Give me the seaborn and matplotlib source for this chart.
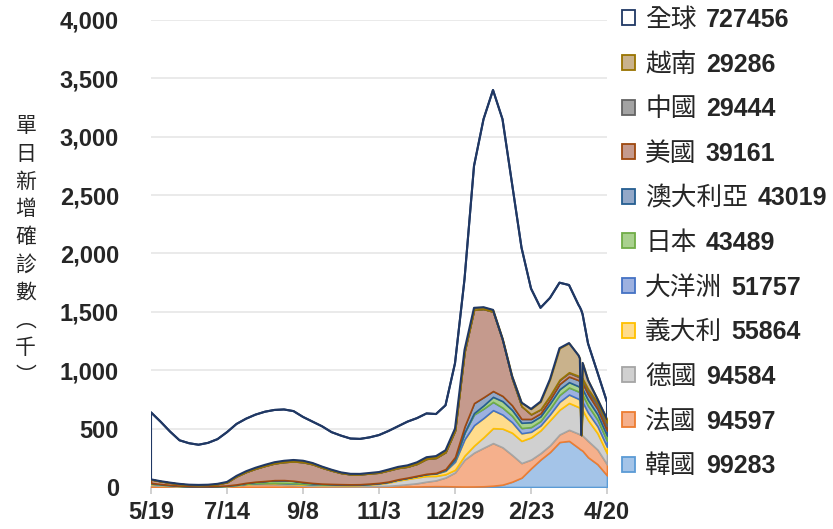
import pandas as pd
import numpy as np
import seaborn as sns
import matplotlib.pyplot as plt
from matplotlib.patches import Patch

# 7-day average daily new cases (thousands)
# weekly from 2021-05-19 to 2022-03-30, then a few single days around 4/1 and the last weeks
dates = list(pd.date_range('2021-05-19', '2022-03-30', freq='7D')) + list(pd.to_datetime(
    ['2022-03-31', '2022-04-01', '2022-04-02', '2022-04-06', '2022-04-13', '2022-04-20']))

korea = [0.6, 0.6, 0.6, 0.5, 0.45, 0.5, 0.7, 1.0, 1.4,
         1.5, 1.5, 1.5, 1.8, 1.9, 1.8, 1.8, 1.9, 1.9, 2.5, 2.4,
         2.2, 1.6, 1.4, 1.6, 2.0, 2.3, 2.9, 3.8, 4.3, 6.0, 7.0, 6.5,
         5.0, 4.0, 4.5, 6.0, 11, 20, 45, 80, 160, 235, 300, 385, 395, 335,
         325, 318, 310, 255, 195, 99.283]
france = [14, 11, 8, 4.5, 3, 2.2, 2.5, 3.5, 6,
          12, 19, 23, 23, 21, 17, 14, 10, 7.5, 6, 5,
          4.5, 4, 4, 4.5, 5.5, 8, 13, 20, 28, 40, 50, 75,
          120, 230, 290, 330, 365, 320, 230, 125, 75, 55, 58, 65, 95, 122,
          125, 128, 130, 140, 125, 94.597]
germany = [10, 6, 4, 2.5, 1.2, 0.8, 0.6, 0.7, 0.9,
           1.5, 2.3, 3, 4, 6, 8, 9, 10, 9, 8, 9,
           9, 9.5, 11, 15, 20, 28, 40, 45, 50, 48, 38, 28,
           22, 35, 60, 90, 128, 160, 190, 190, 190, 195, 215, 212, 230, 228,
           222, 0, 218, 178, 140, 94.584]
italy = [5, 3.5, 2.5, 2, 1.3, 1, 0.9, 1.2, 2,
         3, 4.5, 5.5, 6, 6.5, 6.5, 6, 5, 4.5, 4, 3.5,
         3, 2.8, 2.8, 3.5, 4, 5.5, 7.5, 9, 12, 16, 20, 30,
         70, 140, 175, 165, 154, 120, 90, 65, 48, 42, 50, 68, 72, 70,
         70, 0, 69, 64, 60, 55.864]
oceania = [0.05, 0.05, 0.05, 0.05, 0.03, 0.03, 0.05, 0.07, 0.1,
           0.1, 0.15, 0.2, 0.3, 0.6, 0.9, 1.3, 1.6, 1.8, 1.9, 1.9,
           2, 2.1, 2.1, 2.1, 1.8, 1.4, 1.3, 1.3, 1.3, 1.6, 3, 8,
           22, 57, 92, 80, 71, 60, 55, 45, 40, 38, 48, 58, 60, 63,
           63, 0, 63, 60, 56, 51.757]
japan = [5.5, 4.5, 3, 2, 1.6, 1.5, 1.7, 2, 2.5,
         4, 8, 12, 16, 22, 24, 20, 13, 8, 4.5, 2.5,
         1.5, 0.7, 0.4, 0.3, 0.2, 0.2, 0.15, 0.1, 0.1, 0.1, 0.2, 0.2,
         0.3, 2, 12, 28, 43, 55, 50, 45, 42, 40, 45, 49, 46, 45,
         45, 0, 46, 48, 46, 43.489]
australia = [0.01, 0.01, 0.01, 0.02, 0.02, 0.02, 0.03, 0.06, 0.1,
             0.15, 0.2, 0.25, 0.3, 0.6, 0.85, 1.2, 1.5, 1.7, 1.8, 1.8,
             1.9, 2, 2, 2, 1.6, 1.2, 1.2, 1.2, 1.1, 1.3, 2.5, 6,
             18, 50, 85, 70, 50, 45, 40, 33, 28, 26, 34, 45, 48, 52,
             52, 0, 52, 50, 46, 43.019]
usa = [30, 24, 19, 15, 12, 11.5, 12.5, 17, 28,
       69, 93, 112, 130, 144, 155, 166, 170, 161, 137, 115,
       96, 86, 85, 87, 88, 96, 97, 94, 102, 128, 129, 145,
       227, 640, 800, 756, 680, 476, 230, 110, 40, 35, 33, 34, 32, 29,
       29, 0, 28, 27, 30, 39.161]
china = [0.02, 0.02, 0.02, 0.02, 0.02, 0.02, 0.02, 0.02, 0.02,
         0.05, 0.05, 0.08, 0.1, 0.08, 0.05, 0.05, 0.05, 0.05, 0.05, 0.05,
         0.05, 0.05, 0.05, 0.05, 0.08, 0.08, 0.05, 0.05, 0.05, 0.08, 0.1, 0.12,
         0.15, 0.15, 0.1, 0.08, 0.1, 0.1, 0.1, 0.12, 0.2, 0.4, 1, 3, 5, 8,
         9, 0, 12, 18, 26, 29.444]
vietnam = [0.1, 0.15, 0.2, 0.2, 0.2, 0.3, 0.5, 1.5, 2.5,
           4, 6, 7.5, 8.5, 9.5, 10.5, 12, 12, 10, 9, 7,
           5, 4, 3.5, 4, 5, 7, 9, 11, 13, 14, 15, 16,
           16, 16, 16, 15, 15, 14, 20, 30, 45, 65, 140, 270, 250, 175,
           160, 0, 135, 75, 28, 29.286]
world = [639, 560, 475, 400, 375, 362, 378, 410, 470,
         540, 585, 620, 645, 660, 664, 650, 600, 560, 520, 470,
         440, 415, 412, 425, 445, 480, 520, 560, 590, 630, 625, 700,
         1060, 1780, 2750, 3150, 3400, 3150, 2600, 2050, 1700, 1535, 1620, 1750, 1730, 1560,
         1540, 1515, 1480, 1230, 980, 727.456]

# stacking order, bottom to top
layers = [
    ('韓國', korea, '#A4C4E8', '#5B9BD5'),
    ('法國', france, '#F5B08C', '#ED7D31'),
    ('德國', germany, '#D0D0D0', '#A5A5A5'),
    ('義大利', italy, '#FFDC8C', '#FFC000'),
    ('大洋洲', oceania, '#9DB1E0', '#4472C4'),
    ('日本', japan, '#A9D18E', '#70AD47'),
    ('澳大利亞', australia, '#93A8C8', '#255E91'),
    ('美國', usa, '#C59A8D', '#9E480E'),
    ('中國', china, '#A3A3A3', '#636363'),
    ('越南', vietnam, '#C9B28C', '#997300'),
]
NAVY = '#203864'

sns.set_theme(style='white')
plt.rcParams['font.family'] = ['Liberation Sans', 'Noto Sans CJK TC', 'DejaVu Sans']

fig = plt.figure(figsize=(8.33, 5.29), dpi=100)
ax = fig.add_axes([0.1813, 0.0794, 0.5474, 0.8828])

df = pd.DataFrame({'date': dates})
lower = np.zeros(len(dates))
for i, (name, vals, face, edge) in enumerate(layers):
    upper = lower + np.array(vals, dtype=float)
    ax.fill_between(df['date'], lower, upper, facecolor=face, edgecolor=edge,
                    linewidth=1.2, zorder=3 + i)
    lower = upper

# global is the last area, no fill, navy border
ax.fill_between(df['date'], lower, world, facecolor='none', edgecolor=NAVY,
                linewidth=1.5, zorder=20)
sns.lineplot(x=df['date'], y=world, color=NAVY, linewidth=1.5, ax=ax, zorder=21)

ax.set_xlim(dates[0], dates[-1])
ax.set_ylim(0, 4000)
ax.set_yticks(range(0, 4001, 500))
ax.set_yticklabels([f'{v:,}' for v in range(0, 4001, 500)])
ticks = pd.date_range(dates[0], dates[-1], freq='56D')
ax.set_xticks(ticks)
ax.set_xticklabels([f'{d.month}/{d.day}' for d in ticks])
ax.set_xlabel('')
ax.set_ylabel('')

ax.grid(axis='y', color='#E6E6E6', linewidth=1.2)
ax.grid(axis='x', visible=False)
ax.set_axisbelow(True)
for s in ['top', 'right', 'left']:
    ax.spines[s].set_visible(False)
ax.spines['bottom'].set_color('#D9D9D9')
ax.spines['bottom'].set_linewidth(1.2)
ax.tick_params(axis='y', length=0, pad=23, labelsize=17)
ax.tick_params(axis='x', length=5, width=1.2, color='#C8C8C8', direction='out',
               pad=5, labelsize=17, bottom=True)
for lab in ax.get_xticklabels() + ax.get_yticklabels():
    lab.set_fontweight('bold')

fig.text(0.031, 0.5255, '\n'.join('單日新增確診數︵千︶'), ha='center', va='center',
         fontsize=15, linespacing=1.34, fontweight='medium',
         family=['Noto Sans CJK TC', 'DejaVu Sans'])

# legend: names in regular weight, numbers in bold placed after them
handles = [Patch(facecolor='white', edgecolor=NAVY, linewidth=1.3)]
names = ['全球']
numbers = ['727456']
for name, vals, face, edge in reversed(layers):
    handles.append(Patch(facecolor=face, edgecolor=edge, linewidth=1.3))
    names.append(name)
    numbers.append(str(round(vals[-1] * 1000)))
leg = fig.legend(handles, names, loc='upper left', bbox_to_anchor=(0.7467, 0.987),
                 frameon=False, borderpad=0, borderaxespad=0, handlelength=0.52,
                 handleheight=0.52, handletextpad=0.38, labelspacing=0.725,
                 prop={'family': ['Noto Sans CJK TC', 'DejaVu Sans'], 'size': 18.5})
fig.canvas.draw()
renderer = fig.canvas.get_renderer()
W, H = fig.bbox.width, fig.bbox.height
for t, num in zip(leg.get_texts(), numbers):
    bb = t.get_window_extent(renderer)
    fig.text((bb.x1 + 9) / W, (bb.y0 + bb.y1) / 2 / H, num, ha='left', va='center',
             fontsize=18, fontweight='bold', family='Liberation Sans')

fig.savefig('out.png', dpi=100)
